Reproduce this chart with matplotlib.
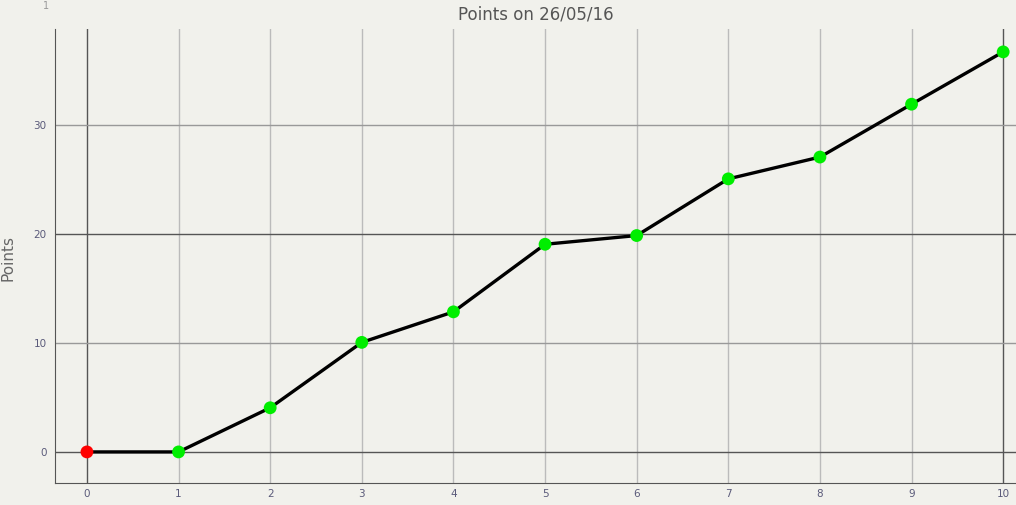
import matplotlib
matplotlib.use("Agg")
from matplotlib import pyplot as plt

days = [0, 1, 2, 3, 4, 5, 6, 7, 8, 9, 10]
points = [0, 0, 4.05, 10.05, 12.85, 19.05, 19.85, 25.05, 27.05, 31.9, 36.7]
xticks = [0, 1, 2, 3, 4, 5, 6, 7, 8, 9, 10]
yticks = [0, 10, 20, 30]

bg = "#f1f1ec"
fig = plt.figure(figsize=(10.16, 5.05), dpi=100, facecolor=bg)
ax = fig.add_axes([0.054, 0.0436, 0.946, 0.899], facecolor=bg)

# grid: dark lines at the edges / 0 / 20, lighter for the rest
for x in xticks:
    c = "#555555" if x in (0, 10) else "#bbbbbb"
    ax.axvline(x, color=c, lw=1, zorder=1)
for y in yticks:
    c = "#555555" if y in (0, 20) else "#999999"
    ax.axhline(y, color=c, lw=1, zorder=1)

ax.plot(days, points, color="black", lw=2.4, zorder=2)
colors = ["#ff0000"] + ["#00ee00"] * (len(days) - 1)
ax.scatter(days, points, c=colors, s=85, zorder=3, linewidths=0)

ax.set_xlim(-0.35, 10.14)
ax.set_ylim(-2.85, 38.8)
ax.set_xticks(xticks)
ax.set_yticks(yticks)
ax.tick_params(length=0, labelsize=7.5, labelcolor="#5a5a7a")
ax.tick_params(axis="y", pad=6)
ax.tick_params(axis="x", pad=4)
for s in ["top", "right"]:
    ax.spines[s].set_visible(False)
for s in ["left", "bottom"]:
    ax.spines[s].set_color("#555555")

ax.set_title("Points on 26/05/16", fontsize=12, color="#555555", pad=7)
fig.text(0.008, 0.49, "Points", fontsize=11, color="#666666", rotation=90,
         ha="center", va="center")
fig.text(0.045, 0.988, "1", fontsize=7, color="#999999", ha="center", va="center")

plt.savefig("out.png", dpi=100, facecolor=bg)
